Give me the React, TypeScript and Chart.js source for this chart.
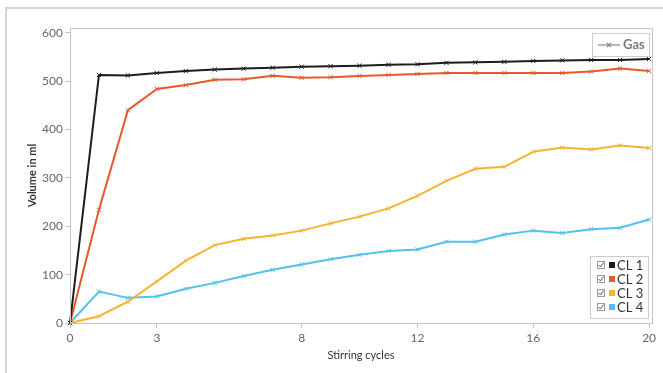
import React, { useEffect, useRef } from "react";
import { Chart, registerables } from "chart.js";

Chart.register(...registerables);

const cycles = [0, 1, 2, 3, 4, 5, 6, 7, 8, 9, 10, 11, 12, 13, 14, 15, 16, 17, 18, 19, 20];
const cl1 = [0, 513, 512, 517, 521, 524, 526, 528, 530, 531, 532, 534, 535, 538, 539, 540, 542, 543, 544, 544, 546];
const cl2 = [0, 234, 440, 484, 492, 503, 504, 511, 507, 508, 511, 513, 515, 517, 517, 517, 517, 517, 520, 526, 521];
const cl3 = [0, 14, 44, 86, 129, 161, 174, 181, 191, 206, 220, 237, 263, 294, 319, 323, 354, 363, 359, 367, 362];
const cl4 = [0, 65, 52, 55, 71, 83, 97, 110, 121, 132, 141, 149, 152, 168, 168, 183, 191, 186, 194, 197, 214];
const seriesNames = ["CL 1", "CL 2", "CL 3", "CL 4"];
const seriesColors = ["#1c1c1c", "#e65a2a", "#f3b42f", "#52c1ee"];
const xTicks = [0, 3, 8, 12, 16, 20];
const yTicks = [0, 100, 200, 300, 400, 500, 600];
const gasLabel = "Gas";
const xTitle = "Stirring cycles";
const yTitle = "Volume in ml";

const FONT = "Lato, 'Open Sans', sans-serif";
const AXIS_GRAY = "#c4c4c4";

const decorPlugin = {
  id: "decor",
  beforeDraw(chart: any) {
    const ctx = chart.ctx;
    ctx.save();
    ctx.strokeStyle = "#d4d4d4";
    ctx.lineWidth = 2;
    ctx.beginPath();
    ctx.moveTo(6, chart.height);
    ctx.lineTo(6, 8);
    ctx.lineTo(chart.width, 8);
    ctx.stroke();
    ctx.restore();
  },
  afterDatasetsDraw(chart: any) {
    const ctx = chart.ctx;
    const a = chart.chartArea;
    ctx.save();
    ctx.strokeStyle = AXIS_GRAY;
    ctx.lineWidth = 1;
    ctx.strokeRect(Math.round(a.left) + 0.5, Math.round(a.top) + 0.5, Math.round(a.right - a.left), Math.round(a.bottom - a.top));

    // Gas legend
    const gx = 592, gy = 33, gw = 57, gh = 23;
    ctx.fillStyle = "#ffffff";
    ctx.fillRect(gx, gy, gw, gh);
    ctx.strokeStyle = "#c8ccd4";
    ctx.strokeRect(gx + 0.5, gy + 0.5, gw, gh);
    const cy = gy + gh / 2 + 0.5;
    ctx.strokeStyle = "#8a8a8a";
    ctx.lineWidth = 1.2;
    ctx.beginPath();
    ctx.moveTo(598, cy);
    ctx.lineTo(620, cy);
    ctx.stroke();
    ctx.beginPath();
    ctx.moveTo(607, cy - 2);
    ctx.lineTo(611, cy + 2);
    ctx.moveTo(611, cy - 2);
    ctx.lineTo(607, cy + 2);
    ctx.stroke();
    ctx.fillStyle = "#7a7a7a";
    ctx.font = `bold 13px ${FONT}`;
    ctx.textBaseline = "middle";
    ctx.textAlign = "left";
    ctx.fillText(gasLabel, 623, cy);

    // CL legend
    const lx = 590, ly = 256, lw = 58, lh = 62;
    ctx.fillStyle = "#ffffff";
    ctx.fillRect(lx, ly, lw, lh);
    ctx.strokeStyle = "#c8ccd4";
    ctx.lineWidth = 1;
    ctx.strokeRect(lx + 0.5, ly + 0.5, lw, lh);
    seriesNames.forEach((name, i) => {
      const ry = 265 + i * 14;
      ctx.strokeStyle = "#9a9a9a";
      ctx.lineWidth = 1;
      ctx.strokeRect(597.5, ry - 3.5, 7, 7);
      ctx.strokeStyle = "#555";
      ctx.beginPath();
      ctx.moveTo(598.5, ry);
      ctx.lineTo(600.5, ry + 2);
      ctx.lineTo(603.5, ry - 2.5);
      ctx.stroke();
      ctx.fillStyle = seriesColors[i];
      ctx.fillRect(609, ry - 3, 6, 6);
      ctx.fillStyle = "#333";
      ctx.font = `13px ${FONT}`;
      ctx.textBaseline = "middle";
      ctx.fillText(name, 617, ry + 0.5);
    });
    ctx.restore();
  },
};

export default function App() {
  const canvasRef = useRef<HTMLCanvasElement | null>(null);

  useEffect(() => {
    if (!canvasRef.current) return;
    const datasets = [cl1, cl2, cl3, cl4].map((vals, i) => ({
      label: seriesNames[i],
      data: cycles.map((c, j) => ({ x: c, y: vals[j] })),
      borderColor: seriesColors[i],
      backgroundColor: seriesColors[i],
      borderWidth: 2,
      pointStyle: "crossRot" as const,
      pointRadius: 3,
      pointBorderWidth: 1,
      pointBorderColor: seriesColors[i],
      tension: 0,
      fill: false,
      clip: false as any,
    }));

    const chart = new Chart(canvasRef.current, {
      type: "line",
      data: { datasets },
      plugins: [decorPlugin],
      options: {
        animation: false,
        responsive: false,
        devicePixelRatio: 1,
        layout: { padding: { top: 28, right: 11, left: 0, bottom: 0 } },
        plugins: {
          legend: { display: false },
          tooltip: { enabled: false },
        },
        scales: {
          x: {
            type: "linear",
            min: 0,
            max: 20.1,
            afterBuildTicks: (scale: any) => {
              scale.ticks = xTicks.map((v) => ({ value: v }));
            },
            afterFit: (scale: any) => {
              scale.height = 50;
            },
            grid: {
              display: true,
              drawOnChartArea: false,
              drawTicks: true,
              tickLength: 5,
              color: AXIS_GRAY,
            },
            border: { display: true, color: AXIS_GRAY },
            ticks: {
              color: "#666",
              font: { family: FONT, size: 12 },
              padding: 3,
              maxRotation: 0,
              autoSkip: false,
            },
            title: {
              display: true,
              text: xTitle,
              color: "#333",
              font: { family: FONT, size: 11 },
              padding: { top: 0, bottom: 11 },
            },
          },
          y: {
            type: "linear",
            min: 0,
            max: 610,
            afterBuildTicks: (scale: any) => {
              scale.ticks = yTicks.map((v) => ({ value: v }));
            },
            afterFit: (scale: any) => {
              scale.width = 70;
            },
            grid: {
              display: true,
              drawOnChartArea: false,
              drawTicks: true,
              tickLength: 5,
              color: AXIS_GRAY,
            },
            border: { display: true, color: AXIS_GRAY },
            ticks: {
              color: "#666",
              font: { family: FONT, size: 12 },
              padding: 2,
              autoSkip: false,
            },
            title: {
              display: true,
              text: yTitle,
              color: "#333",
              font: { family: FONT, size: 11, weight: "bold" },
              padding: { top: 26, bottom: 0 },
            },
          },
        },
      },
    });
    return () => chart.destroy();
  }, []);

  return (
    <div style={{ position: "fixed", left: 0, top: 0, width: 663, height: 373, background: "#fff" }}>
      <canvas ref={canvasRef} width={663} height={373} style={{ width: 663, height: 373, display: "block" }} />
    </div>
  );
}
